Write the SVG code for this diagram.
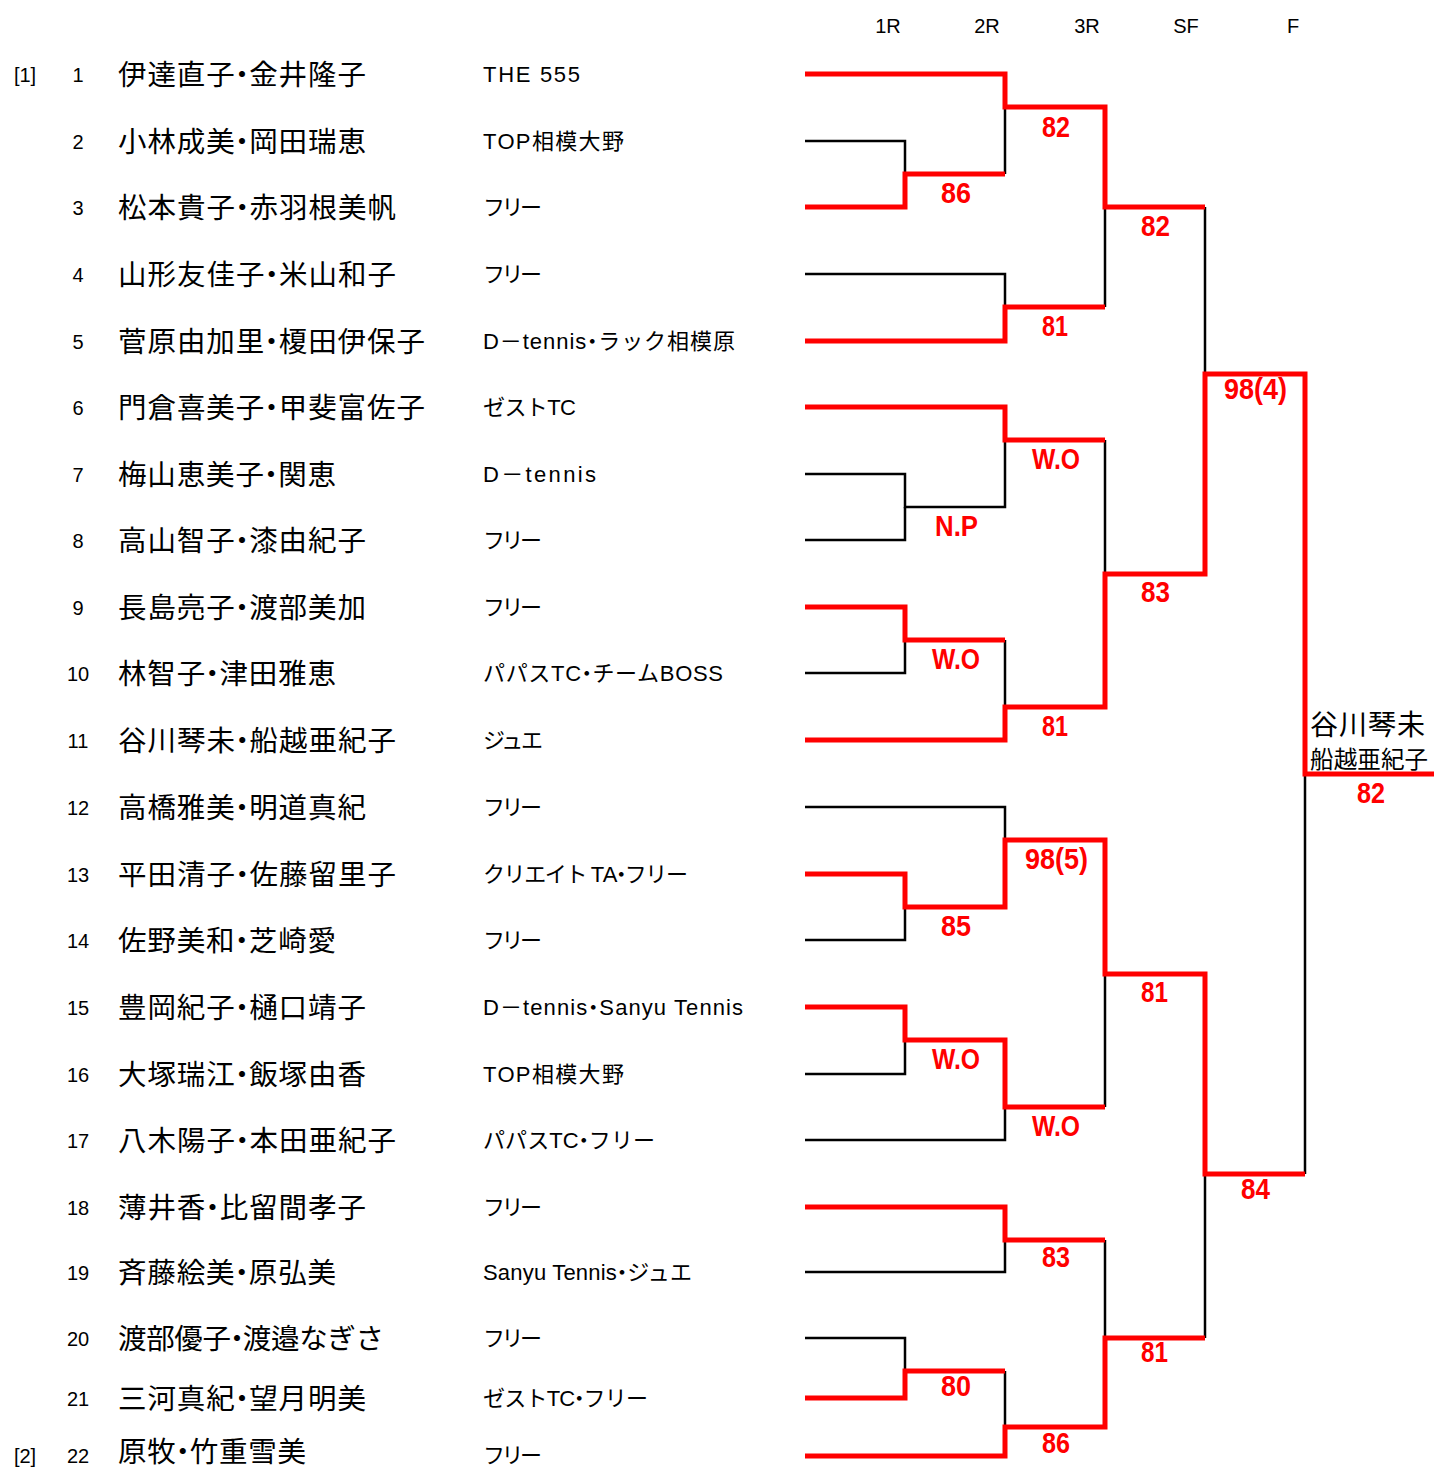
<svg xmlns="http://www.w3.org/2000/svg" width="1434" height="1468" viewBox="0 0 1434 1468">
<style>
.red{fill:none;stroke:#ff0000;stroke-width:5;stroke-linejoin:miter}
.blk{fill:none;stroke:#000;stroke-width:2.5}
.hdr{font-family:"Liberation Sans","Noto Sans CJK JP",sans-serif;font-size:20px;text-anchor:middle;fill:#000}
.num{font-family:"Liberation Sans","Noto Sans CJK JP",sans-serif;font-size:20px;text-anchor:middle;fill:#000}
.name{font-family:"Noto Sans CJK JP",sans-serif;font-size:28.5px;fill:#000}
.club{font-family:"Liberation Sans","Noto Sans CJK JP",sans-serif;font-size:22px;fill:#000}
.sc{font-family:"Liberation Sans",sans-serif;font-weight:bold;font-size:29px;fill:#ff0000}
.win1{font-family:"Noto Sans CJK JP",sans-serif;font-size:28px;fill:#000}
.win2{font-family:"Noto Sans CJK JP",sans-serif;font-size:23.5px;fill:#000}
.nd{letter-spacing:-8px}
.cd{letter-spacing:-6px}
</style>
<rect width="1434" height="1468" fill="#fff"/>
<g id="header">
<text class="hdr" x="888" y="33">1R</text>
<text class="hdr" x="987" y="33">2R</text>
<text class="hdr" x="1087" y="33">3R</text>
<text class="hdr" x="1186" y="33">SF</text>
<text class="hdr" x="1293" y="33">F</text>
</g>
<g id="connectors">
<path class="blk" d="M805,141 H905 V174"/>
<path class="blk" d="M1005,107 V174"/>
<path class="blk" d="M805,274 H1005 V307"/>
<path class="blk" d="M1105,207 V307"/>
<path class="blk" d="M1205,207 V374"/>
<path class="blk" d="M805,474 H905 V507 H1005 V440"/>
<path class="blk" d="M805,540 H905 V507"/>
<path class="blk" d="M805,673 H905 V640"/>
<path class="blk" d="M1005,640 V707"/>
<path class="blk" d="M1105,440 V574"/>
<path class="blk" d="M805,807 H1005 V840"/>
<path class="blk" d="M805,940 H905 V907"/>
<path class="blk" d="M805,1074 H905 V1040"/>
<path class="blk" d="M805,1140 H1005 V1107"/>
<path class="blk" d="M1105,974 V1107"/>
<path class="blk" d="M1305,774 V1174"/>
<path class="blk" d="M805,1272 H1005 V1240"/>
<path class="blk" d="M1105,1240 V1338"/>
<path class="blk" d="M1205,1174 V1338"/>
<path class="blk" d="M805,1338 H905 V1371"/>
<path class="blk" d="M1005,1371 V1427"/>
<path class="red" d="M805,74 H1005 V107 H1105 V207 H1205"/>
<path class="red" d="M805,207 H905 V174 H1005"/>
<path class="red" d="M805,341 H1005 V307 H1105"/>
<path class="red" d="M805,407 H1005 V440 H1105"/>
<path class="red" d="M805,607 H905 V640 H1005"/>
<path class="red" d="M805,740 H1005 V707 H1105 V574 H1205 V374 H1305 V774 H1434"/>
<path class="red" d="M805,874 H905 V907 H1005 V840 H1105 V974 H1205 V1174 H1305"/>
<path class="red" d="M805,1007 H905 V1040 H1005 V1107 H1105"/>
<path class="red" d="M805,1207 H1005 V1240 H1105"/>
<path class="red" d="M805,1398 H905 V1371 H1005"/>
<path class="red" d="M805,1456 H1005 V1427 H1105 V1338 H1205"/>
</g>
<g id="scores">
<text class="sc" x="941" y="203" textLength="30" lengthAdjust="spacingAndGlyphs">86</text>
<text class="sc" x="1042" y="137" textLength="28" lengthAdjust="spacingAndGlyphs">82</text>
<text class="sc" x="1141" y="236" textLength="29" lengthAdjust="spacingAndGlyphs">82</text>
<text class="sc" x="1042" y="336" textLength="26" lengthAdjust="spacingAndGlyphs">81</text>
<text class="sc" x="1224" y="399" textLength="63" lengthAdjust="spacingAndGlyphs">98(4)</text>
<text class="sc" x="1032" y="469" textLength="48" lengthAdjust="spacingAndGlyphs">W.O</text>
<text class="sc" x="935" y="536" textLength="43" lengthAdjust="spacingAndGlyphs">N.P</text>
<text class="sc" x="1141" y="602" textLength="29" lengthAdjust="spacingAndGlyphs">83</text>
<text class="sc" x="932" y="669" textLength="48" lengthAdjust="spacingAndGlyphs">W.O</text>
<text class="sc" x="1042" y="736" textLength="26" lengthAdjust="spacingAndGlyphs">81</text>
<text class="sc" x="1357" y="803" textLength="28" lengthAdjust="spacingAndGlyphs">82</text>
<text class="sc" x="1025" y="869" textLength="63" lengthAdjust="spacingAndGlyphs">98(5)</text>
<text class="sc" x="941" y="936" textLength="30" lengthAdjust="spacingAndGlyphs">85</text>
<text class="sc" x="1141" y="1002" textLength="27" lengthAdjust="spacingAndGlyphs">81</text>
<text class="sc" x="932" y="1069" textLength="48" lengthAdjust="spacingAndGlyphs">W.O</text>
<text class="sc" x="1032" y="1136" textLength="48" lengthAdjust="spacingAndGlyphs">W.O</text>
<text class="sc" x="1241" y="1199" textLength="29" lengthAdjust="spacingAndGlyphs">84</text>
<text class="sc" x="1042" y="1267" textLength="28" lengthAdjust="spacingAndGlyphs">83</text>
<text class="sc" x="1141" y="1362" textLength="27" lengthAdjust="spacingAndGlyphs">81</text>
<text class="sc" x="941" y="1396" textLength="30" lengthAdjust="spacingAndGlyphs">80</text>
<text class="sc" x="1042" y="1453" textLength="28" lengthAdjust="spacingAndGlyphs">86</text>
</g>
<g id="champion">
<text class="win1" x="1310" y="735" textLength="115" lengthAdjust="spacing">谷川琴未</text>
<text class="win2" x="1310" y="768" textLength="118" lengthAdjust="spacing">船越亜紀子</text>
</g>
<g id="p1"><text class="num" x="25" y="82">[1]</text><text class="num" x="78" y="82">1</text><text class="name" x="118" y="85" textLength="248" lengthAdjust="spacing">伊達直<tspan class="nd">子・</tspan>金井隆子</text><text class="club" x="483" y="82" textLength="97" lengthAdjust="spacing">THE 555</text></g>
<g id="p2"><text class="num" x="78" y="149">2</text><text class="name" x="118" y="152" textLength="248" lengthAdjust="spacing">小林成<tspan class="nd">美・</tspan>岡田瑞恵</text><text class="club" x="483" y="149" textLength="141" lengthAdjust="spacing">TOP相模大野</text></g>
<g id="p3"><text class="num" x="78" y="215">3</text><text class="name" x="118" y="218" textLength="278" lengthAdjust="spacing">松本貴<tspan class="nd">子・</tspan>赤羽根美帆</text><text class="club" x="483" y="215" textLength="59" lengthAdjust="spacing">フリー</text></g>
<g id="p4"><text class="num" x="78" y="282">4</text><text class="name" x="118" y="285" textLength="278" lengthAdjust="spacing">山形友佳<tspan class="nd">子・</tspan>米山和子</text><text class="club" x="483" y="282" textLength="59" lengthAdjust="spacing">フリー</text></g>
<g id="p5"><text class="num" x="78" y="349">5</text><text class="name" x="118" y="352" textLength="307" lengthAdjust="spacing">菅原由加<tspan class="nd">里・</tspan>榎田伊保子</text><text class="club" x="483" y="349" textLength="252" lengthAdjust="spacing">D－tenni<tspan class="cd">s・</tspan>ラック相模原</text></g>
<g id="p6"><text class="num" x="78" y="415">6</text><text class="name" x="118" y="418" textLength="307" lengthAdjust="spacing">門倉喜美<tspan class="nd">子・</tspan>甲斐富佐子</text><text class="club" x="483" y="415" textLength="93" lengthAdjust="spacing">ゼストTC</text></g>
<g id="p7"><text class="num" x="78" y="482">7</text><text class="name" x="118" y="485" textLength="218" lengthAdjust="spacing">梅山恵美<tspan class="nd">子・</tspan>関恵</text><text class="club" x="483" y="482" textLength="113" lengthAdjust="spacing">D－tennis</text></g>
<g id="p8"><text class="num" x="78" y="548">8</text><text class="name" x="118" y="551" textLength="248" lengthAdjust="spacing">高山智<tspan class="nd">子・</tspan>漆由紀子</text><text class="club" x="483" y="548" textLength="59" lengthAdjust="spacing">フリー</text></g>
<g id="p9"><text class="num" x="78" y="615">9</text><text class="name" x="118" y="618" textLength="248" lengthAdjust="spacing">長島亮<tspan class="nd">子・</tspan>渡部美加</text><text class="club" x="483" y="615" textLength="59" lengthAdjust="spacing">フリー</text></g>
<g id="p10"><text class="num" x="78" y="681">10</text><text class="name" x="118" y="684" textLength="218" lengthAdjust="spacing">林智<tspan class="nd">子・</tspan>津田雅恵</text><text class="club" x="483" y="681" textLength="240" lengthAdjust="spacing">パパスT<tspan class="cd">C・</tspan>チームBOSS</text></g>
<g id="p11"><text class="num" x="78" y="748">11</text><text class="name" x="118" y="751" textLength="278" lengthAdjust="spacing">谷川琴<tspan class="nd">未・</tspan>船越亜紀子</text><text class="club" x="483" y="748" textLength="60" lengthAdjust="spacing">ジュエ</text></g>
<g id="p12"><text class="num" x="78" y="815">12</text><text class="name" x="118" y="818" textLength="248" lengthAdjust="spacing">高橋雅<tspan class="nd">美・</tspan>明道真紀</text><text class="club" x="483" y="815" textLength="59" lengthAdjust="spacing">フリー</text></g>
<g id="p13"><text class="num" x="78" y="882">13</text><text class="name" x="118" y="885" textLength="278" lengthAdjust="spacing">平田清<tspan class="nd">子・</tspan>佐藤留里子</text><text class="club" x="483" y="882" textLength="205" lengthAdjust="spacing">クリエイト T<tspan class="cd">A・</tspan>フリー</text></g>
<g id="p14"><text class="num" x="78" y="948">14</text><text class="name" x="118" y="951" textLength="218" lengthAdjust="spacing">佐野美<tspan class="nd">和・</tspan>芝崎愛</text><text class="club" x="483" y="948" textLength="59" lengthAdjust="spacing">フリー</text></g>
<g id="p15"><text class="num" x="78" y="1015">15</text><text class="name" x="118" y="1018" textLength="248" lengthAdjust="spacing">豊岡紀<tspan class="nd">子・</tspan>樋口靖子</text><text class="club" x="483" y="1015" textLength="260" lengthAdjust="spacing">D－tenni<tspan class="cd">s・</tspan>Sanyu Tennis</text></g>
<g id="p16"><text class="num" x="78" y="1082">16</text><text class="name" x="118" y="1085" textLength="248" lengthAdjust="spacing">大塚瑞<tspan class="nd">江・</tspan>飯塚由香</text><text class="club" x="483" y="1082" textLength="141" lengthAdjust="spacing">TOP相模大野</text></g>
<g id="p17"><text class="num" x="78" y="1148">17</text><text class="name" x="118" y="1151" textLength="278" lengthAdjust="spacing">八木陽<tspan class="nd">子・</tspan>本田亜紀子</text><text class="club" x="483" y="1148" textLength="172" lengthAdjust="spacing">パパスT<tspan class="cd">C・</tspan>フリー</text></g>
<g id="p18"><text class="num" x="78" y="1215">18</text><text class="name" x="118" y="1218" textLength="248" lengthAdjust="spacing">薄井<tspan class="nd">香・</tspan>比留間孝子</text><text class="club" x="483" y="1215" textLength="59" lengthAdjust="spacing">フリー</text></g>
<g id="p19"><text class="num" x="78" y="1280">19</text><text class="name" x="118" y="1283" textLength="218" lengthAdjust="spacing">斉藤絵<tspan class="nd">美・</tspan>原弘美</text><text class="club" x="483" y="1280" textLength="209" lengthAdjust="spacing">Sanyu Tenni<tspan class="cd">s・</tspan>ジュエ</text></g>
<g id="p20"><text class="num" x="78" y="1346">20</text><text class="name" x="118" y="1349" textLength="266" lengthAdjust="spacing">渡部優<tspan class="nd">子・</tspan>渡邉なぎさ</text><text class="club" x="483" y="1346" textLength="59" lengthAdjust="spacing">フリー</text></g>
<g id="p21"><text class="num" x="78" y="1406">21</text><text class="name" x="118" y="1409" textLength="248" lengthAdjust="spacing">三河真<tspan class="nd">紀・</tspan>望月明美</text><text class="club" x="483" y="1406" textLength="165" lengthAdjust="spacing">ゼストT<tspan class="cd">C・</tspan>フリー</text></g>
<g id="p22"><text class="num" x="25" y="1463">[2]</text><text class="num" x="78" y="1463">22</text><text class="name" x="118" y="1462" textLength="188" lengthAdjust="spacing">原<tspan class="nd">牧・</tspan>竹重雪美</text><text class="club" x="483" y="1463" textLength="59" lengthAdjust="spacing">フリー</text></g>
</svg>
